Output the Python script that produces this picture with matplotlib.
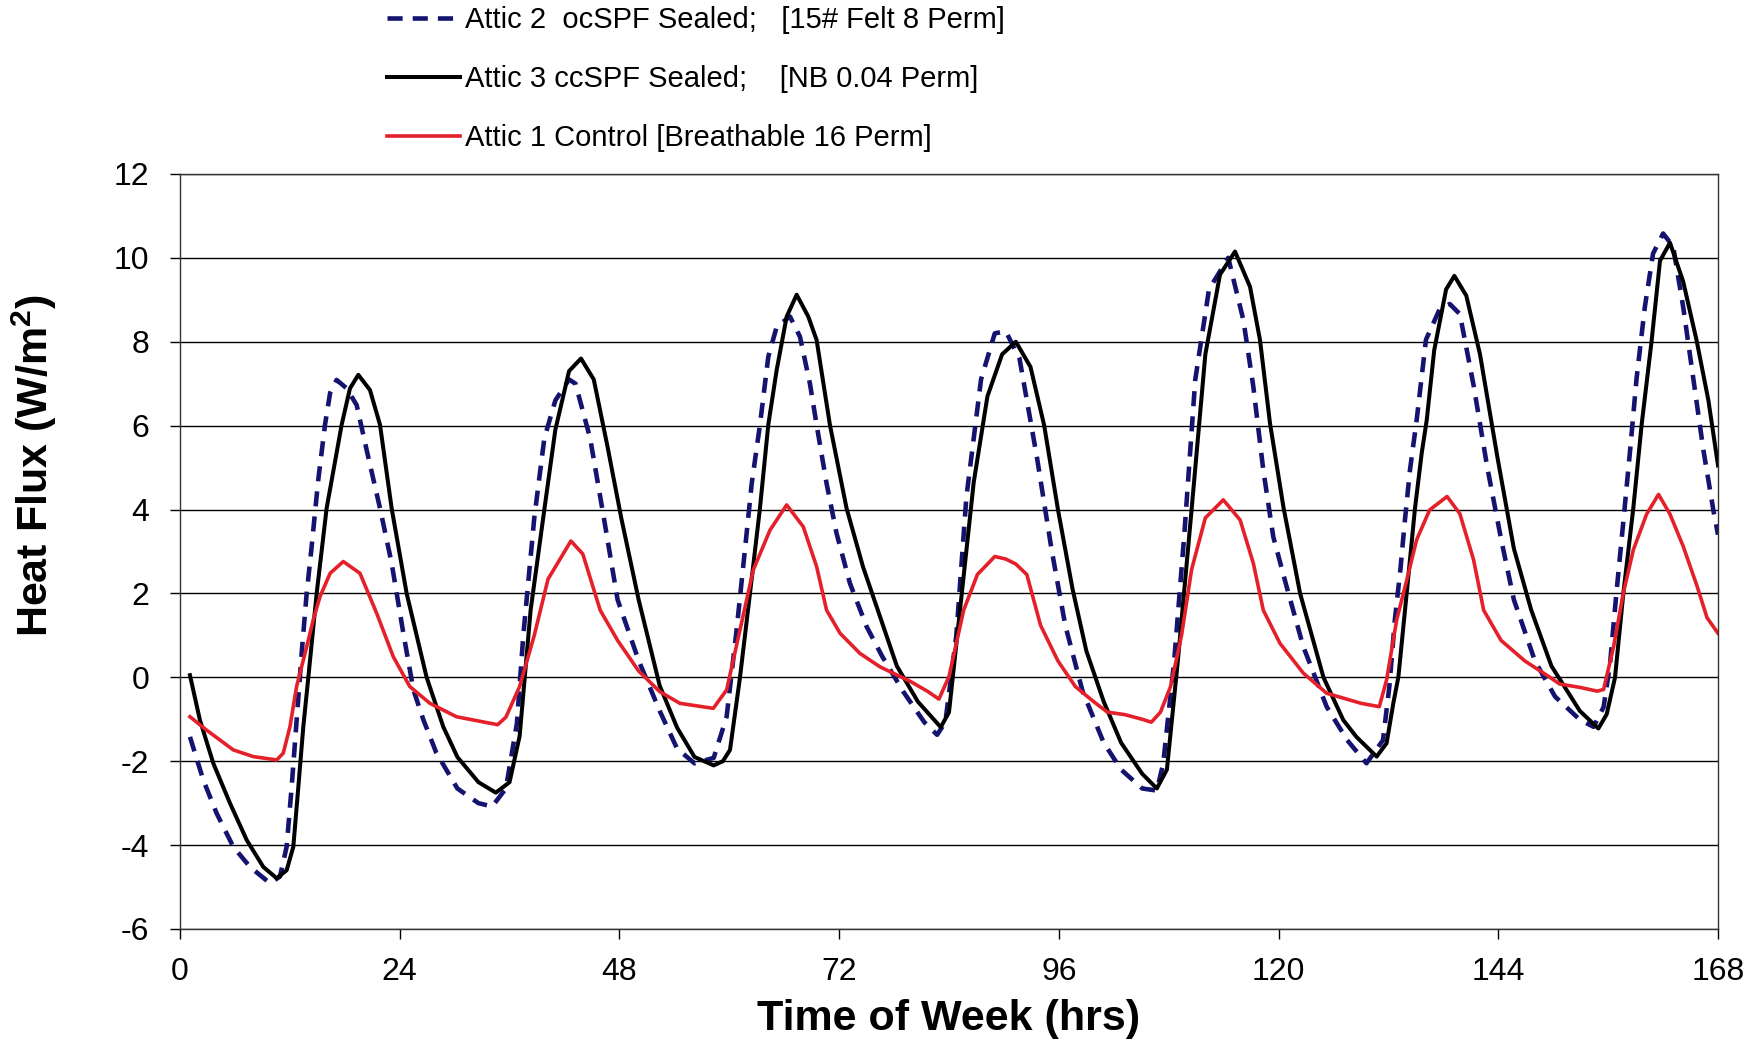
import numpy as np
import matplotlib
matplotlib.use("Agg")
from matplotlib import pyplot as plt

plt.rcParams['font.family'] = ['Liberation Sans', 'DejaVu Sans']
plt.rcParams['axes.unicode_minus'] = False

# Attic 3 ccSPF sealed (black solid)
hrs_a3 = [1.09, 2.18, 3.64, 5.46, 7.29, 9.1, 10.56, 11.65, 12.38, 12.93, 13.47, 14.02, 14.93,
          16.02, 17.66, 18.57, 19.48, 20.75, 21.85, 23.12, 24.76, 26.94, 28.76, 30.3, 32.6,
          34.5, 36, 37.1, 38.3, 39.8, 41, 42.5, 43.8, 45.2, 46.7, 48.2, 50.1, 52.4, 54.3, 56.2,
          58.3, 59.3, 60.08, 61.17, 62.26, 63.35, 64.26, 65.18, 66.27, 67.36, 68.63, 69.54,
          70.99, 72.81, 74.6, 76.46, 78.3, 80.6, 83.1, 84, 85.2, 86.7, 88.2, 89.8, 91.3, 92.9,
          94.4, 95.9, 97.5, 99, 100.9, 102.8, 105.1, 106.7, 107.8, 109, 110.5, 112, 113.6,
          115.24, 116.88, 117.97, 119.06, 120.52, 122.35, 124.9, 127.07, 128.5, 130.71, 131.8,
          132.53, 133.08, 133.99, 134.9, 135.63, 136.18, 137.0, 138.3, 139.2, 140.5, 142,
          143.9, 145.7, 147.6, 149.8, 152.9, 154.93, 155.84, 156.75, 157.66, 158.75, 159.66,
          160.75, 161.66, 162.75, 164.2, 165.66, 166.95, 168]
flux_a3 = [0.05, -1.02, -2.05, -3.0, -3.88, -4.52, -4.79, -4.6, -4.04, -2.61, -1.18, 0, 2.0,
           4.03, 6.02, 6.89, 7.21, 6.85, 6.02, 4.03, 2.0, 0, -1.18, -1.9, -2.5,
           -2.75, -2.5, -1.4, 1.6, 4.0, 5.9, 7.3, 7.6, 7.1, 5.5, 3.8, 1.85, -0.2, -1.2, -1.9,
           -2.1, -2.0, -1.73, 0, 2.0, 4.03, 6.02, 7.33, 8.6, 9.12, 8.6, 8.04,
           6.02, 4.03, 2.64, 1.45, 0.27, -0.58, -1.19, -0.83, 1.6, 4.65, 6.7, 7.7, 8.0, 7.4,
           6.0, 4.0, 2.1, 0.63, -0.58, -1.56, -2.3, -2.65, -2.2, 0.4, 4.0, 7.7, 9.6,
           10.15, 9.31, 8.04, 6.06, 4.07, 2.0, 0, -1.02, -1.42, -1.89, -1.57,
           -0.62, 0, 2.0, 4.03, 5.34, 6.13, 7.8, 9.25, 9.57, 9.1, 7.7,
           5.25, 3.07, 1.6, 0.27, -0.8, -1.22, -0.88, 0, 2.01, 4.04, 6.03,
           8.03, 9.93, 10.36, 9.43, 8.03, 6.6, 5.05]

# Attic 2 ocSPF sealed (navy dashed)
hrs_a2 = [1.09, 2.55, 4.0, 5.82, 7.65, 9.83, 10.92, 11.65, 12.2, 12.74, 13.29, 13.84, 14.38,
          15.1, 15.84, 16.4, 17.11, 18.2, 19.3, 20.39, 21.85, 23.12, 24.4, 25.5, 26.6, 28,
          30.3, 32.6, 34.1, 35.6, 36.8, 37.5, 38.7, 39.8, 41, 42.5, 43.2, 44.8, 46.3, 47.8,
          50.1, 52.4, 54.3, 56.2, 58.3, 59.71, 60.8, 61.71, 62.45, 63.35, 64.26, 65.18, 66.63,
          67.72, 68.81, 69.54, 70.63, 71.72, 73.18, 75.0, 76.7, 79, 81.3, 82.7, 83.6, 84.8,
          85.9, 87.5, 89, 90.2, 91.7, 93.6, 95.2, 96.7, 98.6, 100.9, 102.8, 105.1, 106.7,
          107.4, 108.6, 109.7, 110.9, 112.4, 114.5, 116.15, 117.24, 118.33, 119.42, 120.88,
          122.7, 125.25, 127.5, 129.6, 131.4, 132.1, 132.7, 133.3, 133.8, 134.35, 135.08,
          136.1, 137.6, 138.7, 139.8, 141.3, 142.8, 144.3, 145.7, 148, 150.2, 152.9, 154.4,
          155.5, 156.2, 156.9, 157.66, 158.4, 159.1, 160.0, 160.9, 162.0, 163.1, 164.2, 165.3,
          166.4, 167.5, 168]
flux_a2 = [-1.42, -2.45, -3.24, -4.04, -4.52, -4.91, -4.75, -4.04, -2.61, -1.02, 0.57, 2.0, 3.11,
           4.7, 6.02, 6.78, 7.09, 6.89, 6.49, 5.42, 4.03, 2.72, 1.05, -0.3, -1.02, -1.8,
           -2.65, -3.0, -3.08, -2.65, -1.1, 1.0, 3.8, 5.7, 6.6, 7.1, 7.0, 5.7, 3.8, 1.85,
           0.4, -0.8, -1.7, -2.05, -1.92, -0.94, 1.13, 3.04, 4.62, 6.02, 7.64, 8.36, 8.6,
           8.12, 7.0, 6.02, 4.62, 3.43, 2.24, 1.21, 0.5, -0.34, -1.07, -1.37, -1.07, 1.0,
           4.3, 7.1, 8.2, 8.25, 7.6, 5.25, 3.05, 1.24, -0.34, -1.56, -2.2, -2.65, -2.7,
           -2.05, 0.4, 3.4, 7.1, 9.25, 10.0, 8.52, 6.93, 4.94, 3.35, 2.16,
           0.73, -0.7, -1.5, -2.05, -1.5, -0.22, 1.37, 2.56, 3.75, 4.94, 6.13,
           8.05, 8.78, 8.9, 8.66, 6.96, 5.0, 3.3, 1.85, 0.39, -0.46, -1.01, -1.18,
           -0.71, 0.31, 2.01, 3.72, 5.42, 7.12, 8.82, 10.1, 10.58, 10.27, 8.82, 7.12,
           5.42, 3.97, 3.4]

# Attic 1 control (red solid)
hrs_a1 = [1.09, 2.91, 5.82, 8.0, 10.56, 11.28, 12.01, 12.74, 13.84, 14.56, 15.29, 16.4, 17.84,
          19.66, 21.48, 23.3, 25.1, 27.3, 30.2, 34.7, 35.6, 37.1, 38.7, 40.2, 42.7, 44, 45.9,
          47.8, 50.1, 52.4, 54.6, 58.25, 59.71, 61.17, 62.62, 64.45, 66.27, 68.08, 69.54, 70.63,
          72.1, 74.27, 76.46, 79.8, 81.7, 82.9, 84, 85.6, 87.1, 89, 90.2, 91.3, 92.5, 94, 95.9,
          97.8, 99.8, 101.3, 103.2, 105.1, 106.1, 107.1, 108.2, 109.4, 110.5, 112, 113.96,
          115.8, 117.24, 118.33, 120.15, 122.7, 125.25, 129.0, 131.0, 131.8, 132.9, 134.0,
          135.08, 136.5, 138.4, 139.8, 141.3, 142.4, 144.3, 146.9, 149.5, 150.7, 152.9, 154.8,
          155.5, 156.6, 157.66, 158.75, 160.2, 161.5, 162.75, 164.2, 165.7, 166.8, 168]
flux_a1 = [-0.94, -1.26, -1.73, -1.89, -1.97, -1.81, -1.18, -0.22, 0.73, 1.37, 1.92, 2.48, 2.76,
           2.48, 1.53, 0.49, -0.22, -0.62, -0.94, -1.13, -0.95, -0.22, 1.0, 2.34, 3.25, 2.94, 1.6,
           0.88, 0.15, -0.34, -0.62, -0.74, -0.3, 1.13, 2.56, 3.51, 4.11, 3.59, 2.64, 1.6,
           1.05, 0.57, 0.25, -0.1, -0.34, -0.52, 0.02, 1.6, 2.45, 2.88, 2.82, 2.7, 2.45, 1.24, 0.39,
           -0.22, -0.58, -0.83, -0.89, -1.0, -1.07, -0.83, -0.22, 1.0, 2.57, 3.8, 4.23,
           3.75, 2.72, 1.6, 0.81, 0.1, -0.38, -0.62, -0.7, -0.06, 1.37, 2.32,
           3.28, 3.99, 4.31, 3.9, 2.8, 1.6, 0.88, 0.39, 0.02, -0.16, -0.24, -0.33,
           -0.29, 0.74, 2.01, 3.04, 3.89, 4.36, 3.89, 3.12, 2.18, 1.42, 1.05]

xticks = [0, 24, 48, 72, 96, 120, 144, 168]
yticks = [-6, -4, -2, 0, 2, 4, 6, 8, 10, 12]

fig = plt.figure(figsize=(17.61, 10.41), dpi=100)
ax = fig.add_axes([0.1022, 0.1076, 0.8734, 0.7253])

l2, = ax.plot(hrs_a2, flux_a2, color='#141470', lw=3.3, dashes=(3.3, 2.2),
              dash_joinstyle='round', label='Attic 2  ocSPF Sealed;   [15# Felt 8 Perm]')
l3, = ax.plot(hrs_a3, flux_a3, color='black', lw=2.9, solid_joinstyle='round',
              label='Attic 3 ccSPF Sealed;    [NB 0.04 Perm]')
l1, = ax.plot(hrs_a1, flux_a1, color='#e4202a', lw=2.6, solid_joinstyle='round',
              label='Attic 1 Control [Breathable 16 Perm]')

ax.set_xlim(0, 168)
ax.set_ylim(-6, 12)
ax.set_xticks(xticks)
ax.set_yticks(yticks)
ax.grid(axis='y', color='black', lw=1.0)
ax.set_axisbelow(True)
for s in ax.spines.values():
    s.set_color('#333333')
    s.set_linewidth(1.0)
ax.tick_params(direction='out', length=7, width=1, labelsize=23)
ax.tick_params(axis='y', pad=15)
ax.tick_params(axis='x', pad=13)

fig.text(949 / 1761, 1 - 1019 / 1041, 'Time of Week (hrs)', ha='center', va='center',
         fontsize=31, fontweight='bold')
fig.text(34 / 1761, 1 - 465 / 1041, 'Heat Flux (W/m$^\\mathregular{2}$)', rotation=90,
         ha='center', va='center', fontsize=31, fontweight='bold')

fig.legend(handles=[l2, l3, l1], loc='upper left', bbox_to_anchor=(375 / 1761, 1.005),
           frameon=False, fontsize=21, handlelength=2.5, handletextpad=0.2,
           labelspacing=1.05, borderaxespad=0)

fig.savefig('out.png', dpi=100)
